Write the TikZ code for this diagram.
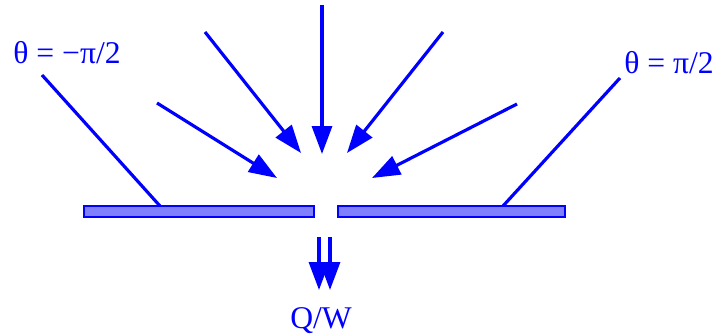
\documentclass[tikz,border=0pt]{standalone}
\usepackage{fontspec}
\setmainfont{Liberation Serif}
\usepackage{xcolor}
\usetikzlibrary{arrows.meta, positioning}

\begin{document}
\begin{tikzpicture}[
  x=0.02cm, y=-0.02cm,
  plate/.style={draw=blue, line width=1.4pt, fill=blue!50},
  ray/.style={-{Triangle[length=0.56cm, width=0.4cm]}, blue, line width=1.8pt},
  edge/.style={blue, line width=1.8pt},
  lbl/.style={text=blue, font=\fontsize{18}{21}\selectfont, inner sep=0pt, anchor=base}
]
  \useasboundingbox (0,0) rectangle (717,335);

  % Plates with the slit between them
  \draw[plate] (84,206) rectangle (314,217);
  \draw[plate] (338,206) rectangle (565,217);
  \coordinate (pl) at (160,206);
  \coordinate (pr) at (503,206);

  % Angle limits
  \node[lbl] (tl) at (67,63) {θ = −π/2};
  \node[lbl] (tr) at (669,73) {θ = π/2};
  \coordinate (el) at (42,75);
  \coordinate (er) at (620,78);
  \draw[edge] (el) -- (pl);
  \draw[edge] (er) -- (pr);

  % Incoming rays
  \coordinate (s1) at (157,103);  \coordinate (t1) at (277,178);
  \coordinate (s2) at (205,32);   \coordinate (t2) at (301,153);
  \coordinate (s3) at (322,5);    \coordinate (t3) at (322,154);
  \coordinate (s4) at (443,32);   \coordinate (t4) at (347,153);
  \coordinate (s5) at (517,104);  \coordinate (t5) at (372,178);
  \foreach \i in {1,...,5} {
    \draw[ray] (s\i) -- (t\i);
  }

  % Transmitted flux
  \coordinate (d1) at (319,237);  \coordinate (e1) at (319,290);
  \coordinate (d2) at (330,237);  \coordinate (e2) at (330,290);
  \draw[ray] (d1) -- (e1);
  \draw[ray] (d2) -- (e2);
  \node[lbl] (qw) at (321,328) {Q/W};
\end{tikzpicture}
\end{document}
